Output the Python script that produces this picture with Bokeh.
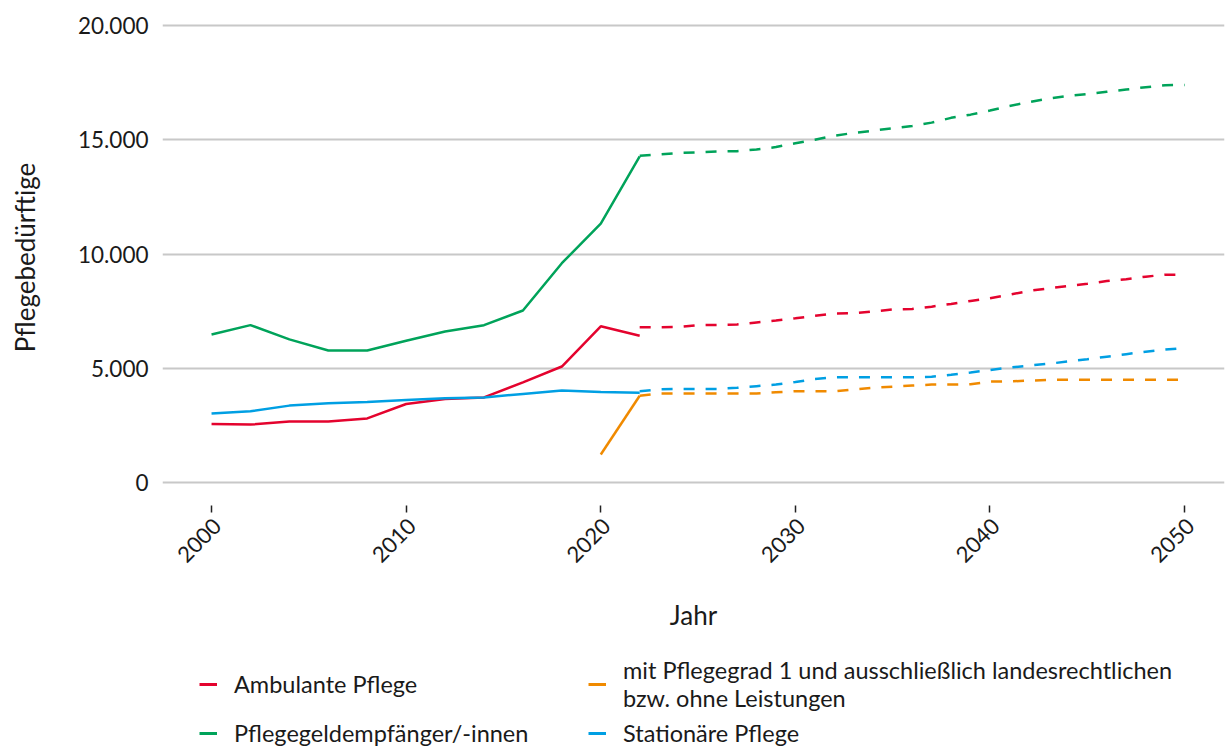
import math
from bokeh.plotting import figure
from bokeh.layouts import column
from bokeh.models import FixedTicker, Legend, LegendItem, Range1d, LinearAxis
from bokeh.embed import file_html
from bokeh.resources import INLINE

# ---------------- data ----------------
years_hist = [2000, 2002, 2004, 2006, 2008, 2010, 2012, 2014, 2016, 2018, 2020, 2022]
ambulant_hist = [2570, 2540, 2680, 2680, 2810, 3440, 3660, 3730, 4390, 5080, 6840, 6430]
pflegegeld_hist = [6480, 6890, 6270, 5780, 5780, 6210, 6610, 6890, 7530, 9600, 11330, 14270]
stationaer_hist = [3030, 3120, 3370, 3470, 3530, 3620, 3690, 3730, 3880, 4030, 3970, 3930]
years_pg1_hist = [2020, 2022]
pg1_hist = [1230, 3800]

years_proj = list(range(2022, 2051))
ambulant_proj = [6800, 6800, 6810, 6890, 6900, 6920, 7010, 7090, 7190, 7300,
                 7400, 7410, 7490, 7580, 7600, 7700, 7820, 7950, 8070, 8220,
                 8390, 8500, 8600, 8700, 8820, 8900, 9010, 9100, 9100]
pflegegeld_proj = [14300, 14360, 14420, 14450, 14490, 14500, 14580, 14680, 14850, 15000,
                   15180, 15300, 15400, 15500, 15600, 15750, 15960, 16100, 16280, 16480,
                   16650, 16800, 16920, 17000, 17100, 17200, 17300, 17390, 17400]
stationaer_proj = [4000, 4080, 4100, 4100, 4100, 4150, 4220, 4290, 4400, 4530,
                   4610, 4610, 4610, 4610, 4610, 4630, 4720, 4820, 4930, 5030,
                   5120, 5200, 5300, 5400, 5510, 5620, 5730, 5820, 5890]
pg1_proj = [3800, 3900, 3900, 3900, 3900, 3900, 3900, 3950, 4000, 4000,
            4000, 4080, 4150, 4200, 4250, 4290, 4290, 4300, 4420, 4430,
            4460, 4500, 4500, 4500, 4500, 4500, 4500, 4500, 4500]

x_ticks = [2000, 2010, 2020, 2030, 2040, 2050]
x_tick_labels = ["2000", "2010", "2020", "2030", "2040", "2050"]
y_ticks = [0, 5000, 10000, 15000, 20000]
y_tick_labels = ["0", "5.000", "10.000", "15.000", "20.000"]

series_labels = [
    "Ambulante Pflege",
    "mit Pflegegrad 1 und ausschließlich landesrechtlichen\nbzw. ohne Leistungen",
    "Pflegegeldempfänger/-innen",
    "Stationäre Pflege",
]

RED = "#E4032E"
ORANGE = "#F08A00"
GREEN = "#00A35A"
BLUE = "#009FE3"
FONT = "Lato"
TXT = "#1a1a1a"

MAIN_H = 650
LEG_H = 747 - MAIN_H
X0, X1 = 1997.48, 2052.05
LABEL_SHIFT = 0.31  # years; moves rotated tick labels slightly right of the tick

# ---------------- main figure ----------------
p = figure(
    output_backend="svg",
    toolbar_location=None,
    title=None,
    width=1226,
    height=MAIN_H,
    min_border_left=162,
    min_border_right=2,
    min_border_top=9,
    min_border_bottom=MAIN_H - 505,
    x_range=Range1d(X0, X1),
    y_range=Range1d(-1000, 20700),
    background_fill_color="white",
    border_fill_color="white",
)
p.outline_line_color = None
p.extra_x_ranges = {"xlab": Range1d(X0 - LABEL_SHIFT, X1 - LABEL_SHIFT)}

# grid
p.xgrid.grid_line_color = None
p.ygrid.grid_line_color = "#c8c8c8"
p.ygrid.grid_line_width = 2
p.ygrid.ticker = FixedTicker(ticks=y_ticks)

# x axis: tick marks only
xa = p.xaxis[0]
xa.ticker = FixedTicker(ticks=x_ticks)
xa.major_label_overrides = {t: "" for t in x_ticks}
xa.major_label_text_font_size = "0px"
xa.major_label_standoff = 0
xa.axis_line_color = None
xa.major_tick_line_color = "#222222"
xa.major_tick_line_width = 1.5
xa.major_tick_out = 7
xa.major_tick_in = 0
xa.minor_tick_line_color = None

# x axis: rotated labels + title
xl = LinearAxis(x_range_name="xlab")
xl.ticker = FixedTicker(ticks=x_ticks)
xl.major_label_overrides = {t: l for t, l in zip(x_ticks, x_tick_labels)}
xl.major_label_orientation = math.pi / 4
xl.axis_line_color = None
xl.major_tick_line_color = None
xl.minor_tick_line_color = None
xl.major_tick_out = 0
xl.major_tick_in = 0
xl.major_label_text_font = FONT
xl.major_label_text_font_size = "22px"
xl.major_label_text_color = TXT
xl.major_label_standoff = 10
xl.axis_label = "Jahr"
xl.axis_label_text_font = FONT
xl.axis_label_text_font_size = "26px"
xl.axis_label_text_font_style = "normal"
xl.axis_label_text_color = TXT
xl.axis_label_standoff = 27
p.add_layout(xl, "below")

# y axis
ya = p.yaxis[0]
ya.ticker = FixedTicker(ticks=y_ticks)
ya.major_label_overrides = {t: l for t, l in zip(y_ticks, y_tick_labels)}
ya.axis_line_color = None
ya.major_tick_line_color = None
ya.minor_tick_line_color = None
ya.major_tick_out = 0
ya.major_tick_in = 0
ya.major_label_text_font = FONT
ya.major_label_text_font_size = "22.5px"
ya.major_label_text_color = TXT
ya.major_label_standoff = 14
ya.axis_label = "Pflegebedürftige"
ya.axis_label_text_font = FONT
ya.axis_label_text_font_size = "26px"
ya.axis_label_text_font_style = "normal"
ya.axis_label_text_color = TXT
ya.axis_label_standoff = 34

# lines
LW = 2.5
DASH = "11 11"
p.line(years_hist, ambulant_hist, line_color=RED, line_width=LW)
p.line(years_proj, ambulant_proj, line_color=RED, line_width=LW, line_dash=DASH)
p.line(years_hist, pflegegeld_hist, line_color=GREEN, line_width=LW)
p.line(years_proj, pflegegeld_proj, line_color=GREEN, line_width=LW, line_dash=DASH)
p.line(years_hist, stationaer_hist, line_color=BLUE, line_width=LW)
p.line(years_proj, stationaer_proj, line_color=BLUE, line_width=LW, line_dash=DASH)
p.line(years_pg1_hist, pg1_hist, line_color=ORANGE, line_width=LW)
p.line(years_proj, pg1_proj, line_color=ORANGE, line_width=LW, line_dash=DASH)

# ---------------- legend strip ----------------
# The series are drawn again here only as legend keys: the ranges of this strip
# are chosen so that the lines themselves fall outside its (invisible) frame.
pl = figure(
    output_backend="svg",
    toolbar_location=None,
    title=None,
    width=1226,
    height=LEG_H,
    min_border_left=0,
    min_border_right=0,
    min_border_top=0,
    min_border_bottom=0,
    x_range=Range1d(0, 1),
    y_range=Range1d(0, 1),
    x_axis_type=None,
    y_axis_type=None,
    background_fill_color="white",
    border_fill_color="white",
)
pl.outline_line_color = None
pl.xgrid.visible = False
pl.ygrid.visible = False

leg_series = [
    (years_hist, ambulant_hist, RED),
    (years_pg1_hist, pg1_hist, ORANGE),
    (years_hist, pflegegeld_hist, GREEN),
    (years_hist, stationaer_hist, BLUE),
]
leg_renderers = [pl.line(x, y, line_color=c, line_width=3) for x, y, c in leg_series]

legend = Legend(
    items=[LegendItem(label=lab, renderers=[r]) for lab, r in zip(series_labels, leg_renderers)],
    orientation="horizontal",
    ncols=2,
    location=(37, 0),
    margin=0,
    padding=0,
    spacing=7,
    glyph_width=18,
    glyph_height=22,
    label_standoff=17,
    label_width=347,
    label_text_font=FONT,
    label_text_font_size="23.5px",
    label_text_line_height=1.12,
    label_text_color=TXT,
    border_line_color=None,
    background_fill_alpha=0,
)
pl.add_layout(legend, "center")

layout = column(p, pl, spacing=0)

with open("out.html", "w") as f:
    f.write(file_html(layout, INLINE))
